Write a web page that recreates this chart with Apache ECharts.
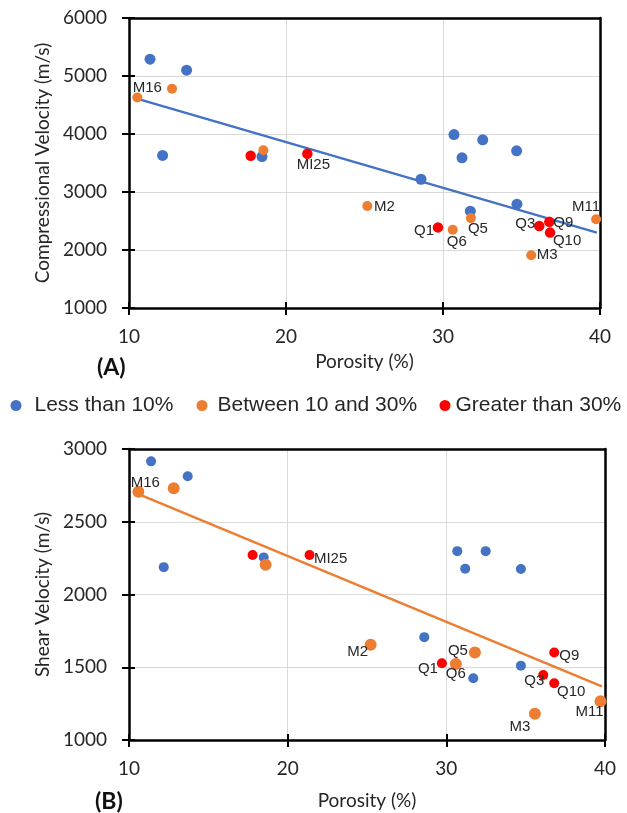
<!DOCTYPE html>
<html style="height: 100%">
<head>
<meta charset="utf-8">
<script src="https://cdn.jsdelivr.net/npm/echarts@6/dist/echarts.min.js"></script>
</head>
<body style="height: 100%; margin: 0; background: #fff">
<div id="container" style="width: 627px; height: 813px"></div>
<script>
// group names
var groupNames = ['Less than 10%', 'Between 10 and 30%', 'Greater than 30%'];

// (A) compressional velocity vs porosity  [porosity, velocity, label]
var vpLess = [[11.34, 5290], [13.67, 5100], [12.14, 3630], [18.47, 3610], [30.70, 3990], [32.53, 3900],
              [31.21, 3590], [34.69, 3710], [28.60, 3220], [31.74, 2670], [34.71, 2790]];
var vpBetween = [[10.53, 4630, 'M16'], [12.74, 4780, ''], [18.56, 3720, ''], [25.18, 2760, 'M2'],
                 [31.78, 2550, 'Q5'], [30.62, 2350, 'Q6'], [39.75, 2530, 'M11'], [35.62, 1910, 'M3']];
var vpGreater = [[17.75, 3625, ''], [21.36, 3660, 'MI25'], [29.68, 2390, 'Q1'], [36.13, 2415, 'Q3'],
                 [36.77, 2485, 'Q9'], [36.82, 2300, 'Q10']];
var vpTrend = [[10.5, 4610], [39.8, 2300]];

// (B) shear velocity vs porosity
var vsLess = [[11.39, 2915], [13.70, 2813], [12.19, 2188], [18.49, 2255], [30.69, 2298], [32.48, 2298],
              [31.19, 2177], [34.70, 2175], [28.61, 1707], [31.70, 1425], [34.70, 1511]];
var vsBetween = [[10.59, 2706, 'M16'], [12.82, 2730, ''], [18.61, 2205, ''], [25.23, 1654, 'M2'],
                 [31.80, 1601, 'Q5'], [30.60, 1523, 'Q6'], [39.72, 1266, 'M11'], [35.58, 1181, 'M3']];
var vsGreater = [[17.79, 2271, ''], [21.38, 2271, 'MI25'], [29.72, 1528, 'Q1'], [36.11, 1447, 'Q3'],
                 [36.80, 1601, 'Q9'], [36.80, 1390, 'Q10']];
var vsTrend = [[10.6, 2690], [39.8, 1368]];

var colors = ['#4472C4', '#ED7D31', '#FF0000'];

// label shift from the marker centre, per sample name (chart A / chart B)
var labelPosA = {
    M16: [10, -10], MI25: [6, 11], M2: [17, 1], Q5: [7, 11], Q1: [-14, 3], Q6: [4, 12],
    Q3: [-14, -2], Q9: [14, 1], Q10: [17, 8], M11: [-10, -12], M3: [16, 0]
};
var labelPosB = {
    M16: [7, -9], MI25: [21, 4], M2: [-13, 7], Q5: [-17, -2], Q1: [-14, 6], Q6: [0, 10],
    Q9: [15, 3], Q3: [-9, 6], Q10: [17, 9], M11: [-11, 11], M3: [-15, 13]
};

var dom = document.getElementById('container');
var myChart = echarts.init(dom);

var tickFont = {fontFamily: 'Lato', fontSize: 19, color: '#262626'};
var titleFont = {fontFamily: 'Lato', fontSize: 19, color: '#262626'};

function pointsOf(arr, posMap, size) {
    return arr.map(function (p) {
        var item = {value: [p[0], p[1]]};
        if (p[2]) {
            var d = posMap[p[2]];
            item.label = {
                show: true, formatter: p[2],
                position: [size / 2 + d[0], size / 2 + d[1]],
                align: 'center', verticalAlign: 'middle'
            };
        }
        return item;
    });
}

function scatter(name, arr, gi, color, size, posMap) {
    return {
        name: name,
        type: 'scatter',
        xAxisIndex: gi * 3,
        yAxisIndex: gi * 3,
        symbolSize: size,
        itemStyle: {color: color, opacity: 1},
        label: {show: false, fontFamily: 'Liberation Sans', fontSize: 15, color: '#262626'},
        labelLayout: {hideOverlap: false},
        data: pointsOf(arr, posMap, size),
        z: 3
    };
}

function plain(v) { return String(v); }

function xAxes(gi, gap) {
    return [{
        type: 'value', gridIndex: gi, min: 10, max: 40, interval: 10,
        name: 'Porosity (%)', nameLocation: 'middle', nameGap: gap,
        nameTextStyle: titleFont,
        axisLine: {show: true, onZero: false, lineStyle: {color: '#000', width: 2.5}},
        axisTick: {show: true, length: 7, lineStyle: {color: '#000', width: 2}},
        axisLabel: Object.assign({margin: 19, formatter: plain}, tickFont),
        splitLine: {show: true, lineStyle: {color: '#d9d9d9', width: 1}}
    }, {
        type: 'value', gridIndex: gi, min: 10, max: 40, interval: 10, position: 'bottom',
        axisLine: {show: false}, axisLabel: {show: false}, splitLine: {show: false},
        axisTick: {show: true, inside: true, length: 6, lineStyle: {color: '#000', width: 2}}
    }, {
        type: 'value', gridIndex: gi, min: 10, max: 40, interval: 10, position: 'top',
        axisLine: {show: true, onZero: false, lineStyle: {color: '#000', width: 2.5}},
        axisTick: {show: false}, axisLabel: {show: false}, splitLine: {show: false}
    }];
}

function yAxes(gi, name, min, max, step) {
    return [{
        type: 'value', gridIndex: gi, min: min, max: max, interval: step,
        name: name, nameLocation: 'middle', nameGap: 75,
        nameTextStyle: titleFont,
        axisLine: {show: true, onZero: false, lineStyle: {color: '#000', width: 2.5}},
        axisTick: {show: true, length: 7, lineStyle: {color: '#000', width: 2}},
        axisLabel: Object.assign({margin: 22, formatter: plain}, tickFont),
        splitLine: {show: true, lineStyle: {color: '#d9d9d9', width: 1}}
    }, {
        type: 'value', gridIndex: gi, min: min, max: max, interval: step, position: 'left',
        axisLine: {show: false}, axisLabel: {show: false}, splitLine: {show: false},
        axisTick: {show: true, inside: true, length: 6, lineStyle: {color: '#000', width: 2}}
    }, {
        type: 'value', gridIndex: gi, min: min, max: max, interval: step, position: 'right',
        axisLine: {show: true, onZero: false, lineStyle: {color: '#000', width: 2.5}},
        axisTick: {show: false}, axisLabel: {show: false}, splitLine: {show: false}
    }];
}

function trend(arr, gi, color) {
    return {
        type: 'line', xAxisIndex: gi * 3, yAxisIndex: gi * 3, data: arr,
        showSymbol: false, symbol: 'none', silent: true,
        lineStyle: {color: color, width: 2.5}, z: 2
    };
}

function legendItem(i, left, pad) {
    return {
        data: [groupNames[i]], left: left, top: 395, padding: 0, icon: 'circle',
        itemWidth: 11, itemHeight: 11,
        textStyle: {fontFamily: 'Liberation Sans', fontSize: 21, lineHeight: 21, color: '#262626', padding: [0, 0, 0, pad]}
    };
}

var option = {
    animation: false,
    backgroundColor: '#fff',
    title: [
        {text: '(A)', left: 92, top: 351, textStyle: {fontFamily: 'Lato', fontSize: 23, fontWeight: 'bold', color: '#111'}},
        {text: '(B)', left: 90, top: 785, textStyle: {fontFamily: 'Lato', fontSize: 23, fontWeight: 'bold', color: '#111'}}
    ],
    legend: [legendItem(0, 10.5, 8), legendItem(1, 196.5, 5), legendItem(2, 439.5, 0)],
    grid: [
        {left: 129, right: 27, top: 18, height: 290},
        {left: 129, right: 22, top: 449, height: 291}
    ],
    xAxis: xAxes(0, 44).concat(xAxes(1, 51)),
    yAxis: yAxes(0, 'Compressional Velocity (m/s)', 1000, 6000, 1000)
        .concat(yAxes(1, 'Shear Velocity (m/s)', 1000, 3000, 500)),
    series: [
        trend(vpTrend, 0, colors[0]),
        scatter(groupNames[0], vpLess, 0, colors[0], 11, labelPosA),
        scatter(groupNames[1], vpBetween, 0, colors[1], 10, labelPosA),
        scatter(groupNames[2], vpGreater, 0, colors[2], 10.5, labelPosA),
        trend(vsTrend, 1, colors[1]),
        scatter(groupNames[0], vsLess, 1, colors[0], 10, labelPosB),
        scatter(groupNames[1], vsBetween, 1, colors[1], 12, labelPosB),
        scatter(groupNames[2], vsGreater, 1, colors[2], 10, labelPosB)
    ]
};

if (option && typeof option === 'object') {
    myChart.setOption(option);
}
</script>
</body>
</html>
